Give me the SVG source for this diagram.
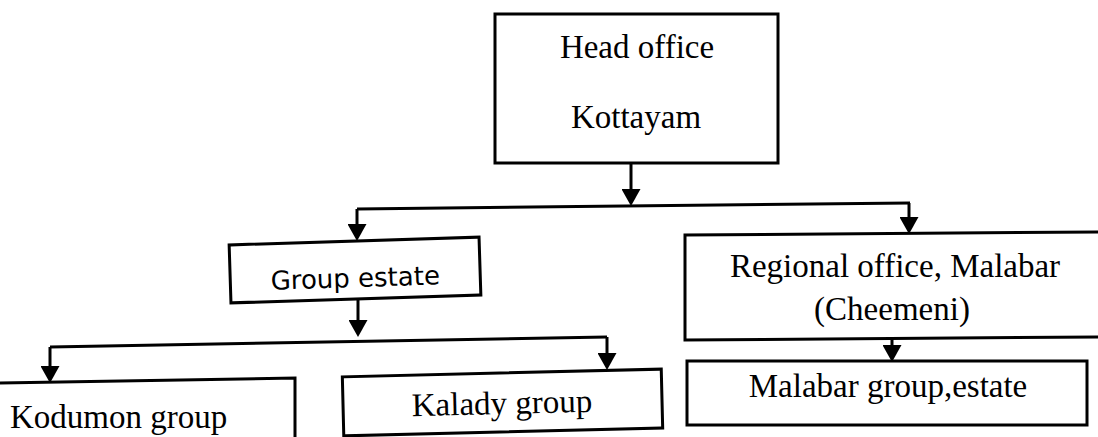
<svg xmlns="http://www.w3.org/2000/svg" width="1098" height="437" viewBox="0 0 1098 437">
  <style>
    .box { fill: #fff; stroke: #000; stroke-width: 3; }
    .edge { fill: none; stroke: #000; stroke-width: 3; }
    .serif { font-family: "Liberation Serif", "Times New Roman", serif; font-size: 33px; fill: #000; text-anchor: middle; }
    .sans { font-family: "DejaVu Sans", "Liberation Sans", sans-serif; font-size: 26px; fill: #000; text-anchor: middle; }
    .conn { fill: none; stroke: #000; stroke-width: 3; marker-end: url(#arrow); }
    .rule { fill: none; stroke: #000; stroke-width: 3; }
  </style>
  <defs>
    <marker id="arrow" viewBox="0 0 17 19" refX="7" refY="9.5" markerWidth="17" markerHeight="19" markerUnits="userSpaceOnUse" orient="auto">
      <path d="M0,0 L17,9.5 L0,19 z" fill="#000"/>
    </marker>
  </defs>
  <rect width="1098" height="437" fill="#fff"/>

  <g id="connectors">
    <!-- head office down to the branch rule -->
    <path class="conn" d="M631,163 V196"/>
    <path class="rule" d="M357,209 L910,203"/>
    <path class="conn" d="M357,209 V231"/>
    <path class="conn" d="M909,203 V224"/>
    <!-- group estate down to its groups -->
    <path class="conn" d="M358,300 V327"/>
    <path class="rule" d="M50,347 L607,337"/>
    <path class="conn" d="M50,347 V373"/>
    <path class="conn" d="M607,337 V360"/>
    <!-- regional office down to Malabar group estate -->
    <path class="conn" d="M892,339 V352"/>
  </g>

  <g id="head-office">
    <rect class="box" x="495" y="14" width="283" height="149"/>
    <text class="serif" x="637" y="58">Head office</text>
    <text class="serif" x="636" y="128">Kottayam</text>
  </g>

  <g id="group-estate" transform="rotate(-1.8 355 270)">
    <rect class="box" x="230" y="241" width="250" height="58"/>
    <text class="sans" x="355" y="287">Group estate</text>
  </g>

  <g id="regional-office">
    <path class="box" d="M1100,232 L685,235 L685,340 L1100,337"/>
    <text class="serif" x="895" y="277">Regional office, Malabar</text>
    <text class="serif" x="892" y="320">(Cheemeni)</text>
  </g>

  <g id="kodumon-group">
    <path class="edge" d="M0,383 L295,378 V440"/>
    <text class="serif" x="10" y="428" style="text-anchor:start">Kodumon group</text>
  </g>

  <g id="kalady-group" transform="rotate(-1.4 502 402)">
    <rect class="box" x="343" y="373" width="319" height="59"/>
    <text class="serif" x="502" y="414">Kalady group</text>
  </g>

  <g id="malabar-group-estate">
    <rect class="box" x="687" y="361" width="400" height="64"/>
    <text class="serif" x="888" y="397">Malabar group,estate</text>
  </g>
</svg>
